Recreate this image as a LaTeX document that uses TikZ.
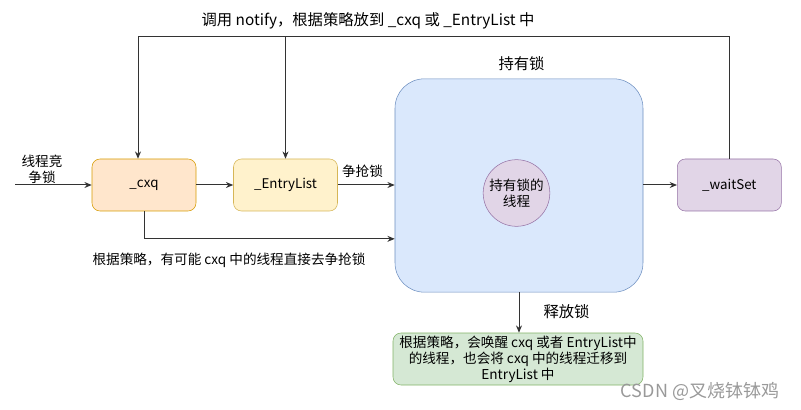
\documentclass[tikz,border=0pt]{standalone}
\usepackage{fontspec}
\setmainfont{Noto Sans CJK SC}
\definecolor{cxqfill}{HTML}{FFE6CC}
\definecolor{cxqline}{HTML}{D79B00}
\definecolor{entryfill}{HTML}{FFF2CC}
\definecolor{entryline}{HTML}{D6B656}
\definecolor{ownerfill}{HTML}{DAE8FC}
\definecolor{ownerline}{HTML}{6C8EBF}
\definecolor{waitfill}{HTML}{E1D5E7}
\definecolor{waitline}{HTML}{9673A6}
\definecolor{relfill}{HTML}{D5E8D4}
\definecolor{relline}{HTML}{82B366}
\definecolor{linkgray}{HTML}{333333}
\usetikzlibrary{arrows.meta,positioning}

\begin{document}
\begin{tikzpicture}[x=0.75pt,y=-0.75pt,
  queue/.style={draw,rounded corners=6pt,minimum width=78pt,minimum height=39pt,inner sep=2pt,font=\fontsize{10}{12}\selectfont},
  link/.style={-{Stealth[length=5.5pt,width=4.5pt]},draw=linkgray,line width=0.75pt},
  lbl/.style={align=center,font=\fontsize{10.2}{12}\selectfont},
  biglbl/.style={align=center,font=\fontsize{11.5}{14}\selectfont}]
  \useasboundingbox (0,0) rectangle (801,410);
  \node[queue,fill=cxqfill,draw=cxqline] (cxq) at (144,185) {\_cxq};
  \node[queue,fill=entryfill,draw=entryline] (entry) at (285.5,185) {\_EntryList};
  \node[draw=ownerline,fill=ownerfill,rounded corners=22pt,minimum width=186pt,minimum height=160pt] (owner) at (519,185.5) {};
  \node[circle,draw=waitline,fill=waitfill,minimum size=50pt,inner sep=0pt,lbl] (thread) at (516.5,193) {持有锁的\\线程};
  \node[queue,fill=waitfill,draw=waitline] (wait) at (729.3,185) {\_waitSet};
  \node[queue,minimum width=187.5pt,fill=relfill,draw=relline,align=center,font=\fontsize{10.2}{12}\selectfont] (release) at (518,359)
    {根据策略，会唤醒 cxq 或者 EntryList中\\的线程，也会将 cxq 中的线程迁移到\\EntryList 中};
  \node[biglbl] (notifylbl) at (368,21) {调用 notify，根据策略放到 \_cxq 或 \_EntryList 中};
  \node[biglbl] (holdlbl) at (521.5,64) {持有锁};
  \node[lbl] (inlbl) at (42,169) {线程竞\\争锁};
  \node[lbl] (grablbl) at (362.5,171) {争抢锁};
  \node[lbl] (directlbl) at (229,260) {根据策略，有可能 cxq 中的线程直接去争抢锁};
  \node[biglbl] (freelbl) at (566.5,311.5) {释放锁};
  \node[text=black!40,font=\fontsize{13.5}{16}\selectfont] (mark) at (700,391) {CSDN @叉烧钵钵鸡};
  \coordinate (start) at (15,185);
  \coordinate (top) at (0,37);
  \coordinate (cxqin) at ([xshift=-4.5pt]cxq.north);
  \draw[link] (start) -- (cxq);
  \draw[link] (cxq) -- (entry);
  \draw[link] (entry.east) -- (entry.east -| owner.west);
  \draw[link] (owner.east |- wait) -- (wait);
  \draw[link] (cxq.south) |- ([yshift=-40pt]owner.west);
  \draw[link] (owner.south) -- (owner.south |- release.north);
  \draw[link] (wait.north) |- (top -| cxqin) -- (cxqin);
  \draw[link] (top -| entry.north) -- (entry.north);
\end{tikzpicture}
\end{document}
